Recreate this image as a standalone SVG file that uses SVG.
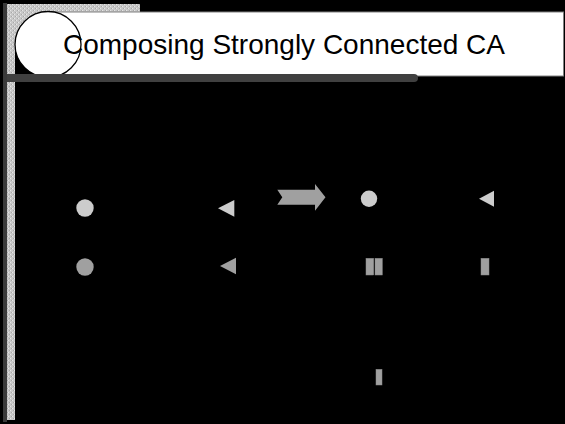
<svg xmlns="http://www.w3.org/2000/svg" width="565" height="424" viewBox="0 0 565 424">
<defs>
<pattern id="hatch" width="4" height="4" patternUnits="userSpaceOnUse">
<rect width="4" height="4" fill="#c8c8c8"/>
<rect x="0" y="0" width="1" height="1" fill="#e6e6e6"/>
<rect x="2" y="2" width="1" height="1" fill="#e6e6e6"/>
<rect x="1" y="2" width="1" height="1" fill="#a8a8a8"/>
<rect x="3" y="0" width="1" height="1" fill="#a8a8a8"/>
</pattern>
</defs>
<style>
.light{fill:#cccccc}
.dark{fill:#a0a0a0}
.bar{fill:#a0a0a0;stroke:#8a8a8a;stroke-width:0.5}
.title{font-family:"Liberation Sans",Arial,sans-serif;font-size:28px;fill:#000000}
</style>
<rect width="565" height="424" fill="#000000"/>
<g id="frame">
<rect x="3" y="3" width="4" height="419" fill="#3a3a3a"/>
<rect x="7" y="4" width="8" height="416" fill="url(#hatch)"/>
<rect x="7" y="4" width="133" height="40" fill="url(#hatch)"/>
</g>
<g id="title">
<rect x="48" y="12" width="515.5" height="64" fill="#ffffff" stroke="#808080" stroke-width="1"/>
<circle cx="48" cy="44.5" r="33" fill="#ffffff" stroke="#000000" stroke-width="1.3"/>
<path d="M7,74 H414 A4,4 0 0 1 414,82 H7 Z" fill="#404040"/>
<text class="title" x="63" y="54">Composing Strongly Connected CA</text>
</g>
<g id="node-circle1"><circle class="light" cx="85" cy="208" r="8.7"/></g>
<g id="node-triangle1"><polygon class="light" points="218,208.3 234.3,200 234.3,216.7"/></g>
<g id="node-circle2"><circle class="dark" cx="85" cy="267" r="8.7"/></g>
<g id="node-triangle2"><polygon class="dark" points="220,266 236,257.7 236,274.3"/></g>
<g id="connectors">
<polygon class="dark" points="277.3,189.7 315,189.7 315,184 325.5,197.3 315,210.7 315,204.7 277.3,204.7 282.3,197.3"/>
</g>
<g id="node-circle3"><circle class="light" cx="369" cy="198.7" r="8.2"/></g>
<g id="node-triangle3"><polygon class="light" points="479,198.7 494,190.7 494,206.7"/></g>
<g id="node-bars">
<rect class="bar" x="366" y="258.3" width="7.7" height="16.7"/>
<rect class="bar" x="375" y="258.3" width="7.3" height="16.7"/>
</g>
<g id="node-bar2"><rect class="bar" x="481" y="258.3" width="8" height="16.7"/></g>
<g id="node-bar3"><rect class="bar" x="376" y="369.3" width="6" height="15.7"/></g>
</svg>
